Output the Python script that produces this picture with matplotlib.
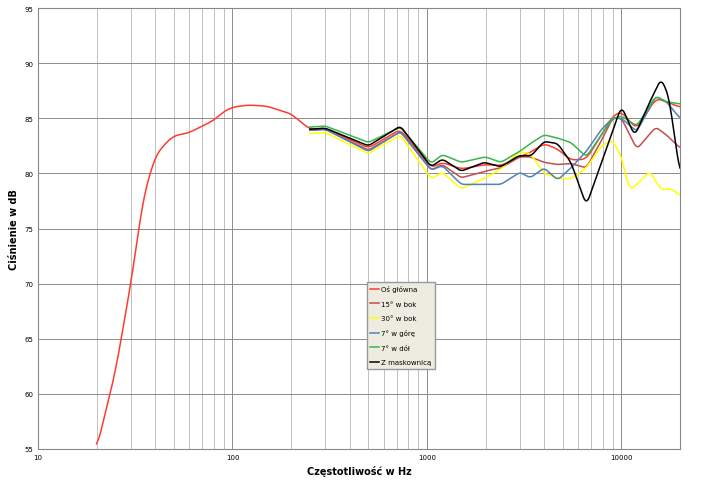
import numpy as np
import matplotlib.pyplot as plt
from matplotlib.ticker import FixedLocator, NullFormatter

# main axis, low frequency part + shared range
f_main = [20, 22, 25, 30, 35, 40, 45, 50, 60, 70, 80, 90, 100, 120, 150, 200, 250, 300,
          500, 730, 1050, 1200, 1500, 2000, 2400, 3000, 3400, 4000, 4700, 5500, 6600,
          7900, 9000, 10000, 12000, 15000, 17000, 20000]
os_glowna = [55, 58, 62, 70, 78, 81.5, 82.7, 83.4, 83.7, 84.3, 84.8, 85.6, 86, 86.2, 86.1,
             85.4, 84.0, 84.1, 82.3, 84.0, 80.5, 81.0, 80.4, 80.8, 80.7, 81.5, 81.9, 82.7, 82.2,
             81.2, 81.3, 83.5, 85.2, 85.6, 84.0, 86.8, 86.5, 86.0]

f_hi = [250, 300, 500, 730, 1050, 1200, 1500, 2000, 2400, 3000, 3400, 4000, 4700, 5500, 6600,
        7900, 9000, 10000, 12000, 15000, 17000, 20000]
bok15 = [83.9, 84.0, 82.1, 83.8, 80.3, 80.8, 79.6, 80.2, 80.5, 81.5, 81.5, 81.0, 80.8, 80.9, 80.5,
         83.0, 85.0, 85.0, 82.2, 84.2, 83.5, 82.3]
gora7 = [83.9, 84.0, 82.0, 83.8, 80.3, 80.7, 79.0, 79.0, 79.0, 80.1, 79.6, 80.5, 79.4, 80.5, 82.0,
         84.0, 85.0, 85.0, 83.8, 87.0, 86.5, 85.0]
dol7 = [84.2, 84.3, 82.8, 84.2, 80.9, 81.7, 81.0, 81.5, 81.0, 82.0, 82.7, 83.5, 83.2, 82.8, 81.5,
        83.5, 85.0, 85.2, 84.3, 87.0, 86.5, 86.3]

f_30 = [250, 300, 500, 730, 1050, 1200, 1500, 2000, 2400, 3000, 3400, 4000, 4700, 5500, 6600,
        7900, 9000, 10000, 11000, 12000, 14000, 16000, 18000, 20000]
bok30 = [83.6, 83.7, 81.8, 83.5, 79.5, 80.1, 78.6, 79.6, 80.4, 82.0, 81.8, 80.0, 79.6, 79.5, 80.5,
         82.5, 83.0, 81.5, 78.5, 79.0, 80.2, 78.5, 78.6, 78.0]

f_mask = [250, 300, 500, 730, 1050, 1200, 1500, 1970, 2400, 2960, 3440, 4000, 4700, 5500, 6600,
          7900, 10000, 11700, 14000, 16000, 17500, 20000]
maskownica = [84.0, 84.1, 82.5, 84.3, 80.6, 81.3, 80.2, 81.0, 80.6, 81.6, 81.6, 82.9, 82.7, 81.0,
              77.1, 81.0, 86.1, 83.4, 86.5, 88.6, 87.0, 80.0]


def smooth(f, v, n=400):
    # linear interpolation on log frequency, then a light moving average
    lf = np.log10(f)
    x = np.linspace(lf[0], lf[-1], n)
    y = np.interp(x, lf, v)
    k = 7
    yp = np.pad(y, k // 2, mode='edge')
    y = np.convolve(yp, np.ones(k) / k, mode='valid')
    return 10 ** x, y


fig = plt.figure(figsize=(7.05, 4.81), dpi=100)
ax = fig.add_axes([38 / 705, 31 / 481, 642 / 705, 441 / 481])

series = [(f_main, os_glowna, '#ff3b2f', 'Oś główna'),
          (f_hi, bok15, '#c0504d', '15° w bok'),
          (f_30, bok30, '#ffff00', '30° w bok'),
          (f_hi, gora7, '#4f81bd', '7° w górę'),
          (f_hi, dol7, '#3cb54a', '7° w dół'),
          (f_mask, maskownica, '#000000', 'Z maskownicą')]
for f, v, c, name in series:
    x, y = smooth(f, v)
    ax.plot(x, y, color=c, lw=1.1, label=name)

ax.set_xscale('log')
ax.set_xlim(10, 20000)
ax.set_ylim(55, 95)
ax.set_yticks(range(55, 96, 5))
ax.set_xticks([10, 100, 1000, 10000])
ax.set_xticklabels(['10', '100', '1000', '10000'])
minor = [m * d for d in [10, 100, 1000, 10000] for m in range(2, 10) if m * d < 20000]
ax.xaxis.set_minor_locator(FixedLocator(minor))
ax.xaxis.set_minor_formatter(NullFormatter())
ax.tick_params(labelsize=5, length=0, which='both')
ax.grid(True, which='major', axis='both', color='#8c8c8c', lw=0.7)
ax.grid(True, which='minor', axis='x', color='#a6a6a6', lw=0.5)
for s in ax.spines.values():
    s.set_color('#888888')

ax.set_xlabel('Częstotliwość w Hz', fontsize=7, fontweight='bold')
ax.set_ylabel('Ciśnienie w dB', fontsize=7, fontweight='bold')

leg = ax.legend(loc='upper left', bbox_to_anchor=(329 / 642, (481 - 31 - 283) / 441),
                fontsize=5, frameon=True, fancybox=False, facecolor='#eeece1',
                edgecolor='#999999', handlelength=1.2, handletextpad=0.3,
                labelspacing=1.2, borderpad=0.5, borderaxespad=0)
leg.get_frame().set_alpha(1)

fig.savefig('out.png', dpi=100)
